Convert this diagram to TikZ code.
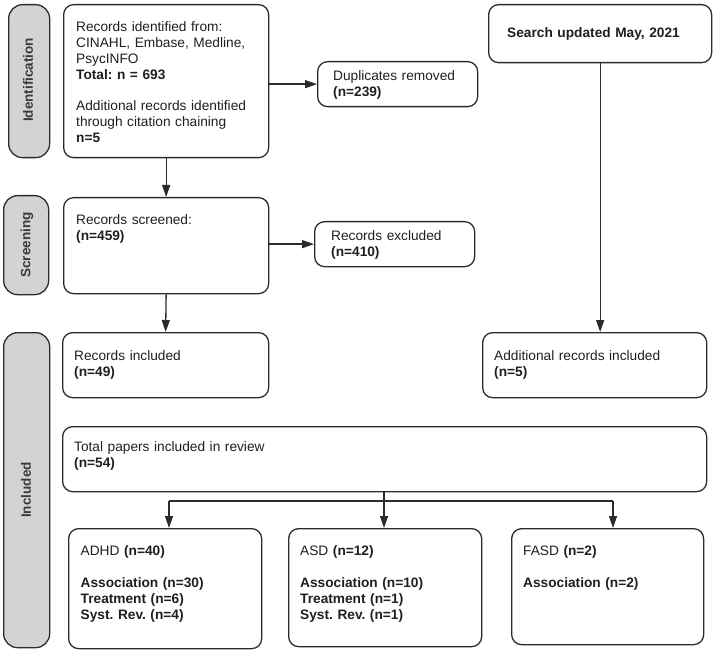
\documentclass[tikz,border=0pt]{standalone}
\usepackage{fontspec}
\setmainfont{Liberation Sans}
\usetikzlibrary{arrows.meta,calc}
\definecolor{lncol}{HTML}{2B2B2B}
\definecolor{tabfill}{HTML}{D3D3D3}
\definecolor{tabtext}{HTML}{3A3A3A}
\frenchspacing
\begin{document}
\frenchspacing
\begin{tikzpicture}[x=1pt,y=-1pt,
  box/.style={draw=lncol, line width=1.3pt, rounded corners=10pt, inner sep=0pt, anchor=north west},
  tabbox/.style={draw=lncol, fill=tabfill, line width=1.3pt, rounded corners=14pt, inner sep=0pt, anchor=north west},
  tablabel/.style={rotate=90, font=\bfseries\fontsize{13.5}{15}\selectfont, text=tabtext, inner sep=0pt},
  txt/.style={anchor=base west, align=left, text width=215pt, inner sep=0pt, text=black!88, font=\fontsize{13.7}{15.9}\selectfont},
  arr/.style={draw=lncol, line width=1.3pt, -{Triangle[length=12pt,width=8pt]}},
  plain/.style={draw=lncol, line width=1.3pt}
]
\useasboundingbox (0,0) rectangle (714,652);

% side tabs
\node[tabbox, minimum width=41pt, minimum height=153pt] (tabI) at (8,4) {};
\node[tabbox, minimum width=45pt, minimum height=99pt] (tabS) at (3,195) {};
\node[tabbox, minimum width=46pt, minimum height=315pt] (tabN) at (3,332) {};
\node[tablabel] (labI) at (28,80) {Identification};
\node[tablabel] (labS) at (27,245) {Screening};
\node[tablabel] (labN) at (26,490) {Included};

% boxes
\node[box, minimum width=205pt, minimum height=153pt] (b1) at (63,4) {};
\node[box, minimum width=160pt, minimum height=45pt] (dup) at (317,61) {};
\node[box, minimum width=223pt, minimum height=58pt] (search) at (488,4) {};
\node[box, minimum width=205pt, minimum height=96pt] (scr) at (63,197) {};
\node[box, minimum width=160pt, minimum height=45pt] (excl) at (314,221) {};
\node[box, minimum width=206pt, minimum height=65pt] (inc) at (62,332) {};
\node[box, minimum width=224pt, minimum height=65pt] (addl) at (482,332) {};
\node[box, minimum width=644pt, minimum height=65pt] (total) at (62,426) {};
\node[box, minimum width=193pt, minimum height=120pt] (adhd) at (68,528) {};
\node[box, minimum width=193pt, minimum height=118pt] (asd) at (288,528) {};
\node[box, minimum width=192pt, minimum height=116pt] (fasd) at (511,528) {};

% texts
\node[txt] (t1) at (76,31.5) {Records identified from:\\
CINAHL, Embase, Medline,\\
PsycINFO\\
\textbf{Total: n = 693}\\[15.9pt]
Additional records identified\\
through citation chaining\\
\textbf{n=5}};
\node[txt] (tdup) at (333,80.7) {Duplicates removed\\ \textbf{(n=239)}};
\node[txt] (tsearch) at (507,37.3) {\textbf{Search updated May, 2021}};
\node[txt] (tscr) at (76,225) {Records screened:\\ \textbf{(n=459)}};
\node[txt] (texcl) at (331,240.7) {Records excluded\\ \textbf{(n=410)}};
\node[txt] (tinc) at (74,360.7) {Records included\\ \textbf{(n=49)}};
\node[txt] (taddl) at (494,360.7) {Additional records included\\ \textbf{(n=5)}};
\node[txt] (ttotal) at (74,451.7) {Total papers included in review\\ \textbf{(n=54)}};
\node[txt] (tadhd) at (80.5,555) {ADHD \textbf{(n=40)}\\[16.5pt]
\textbf{Association (n=30)}\\
\textbf{Treatment (n=6)}\\
\textbf{Syst. Rev. (n=4)}};
\node[txt] (tasd) at (300,555.5) {ASD \textbf{(n=12)}\\[16.5pt]
\textbf{Association (n=10)}\\
\textbf{Treatment (n=1)}\\
\textbf{Syst. Rev. (n=1)}};
\node[txt] (tfasd) at (523,555) {FASD \textbf{(n=2)}\\[16.5pt]
\textbf{Association (n=2)}};

% connectors
\draw[arr] (b1.east |- dup.west) -- (dup.west);
\draw[arr] (b1.south) -- (scr.north);
\draw[arr] (scr.east |- excl.west) -- (excl.west);
\draw[arr] (scr.south) -- (inc.north);
\draw[arr] (search.south) -- (search.south |- addl.north);

\coordinate (br) at (384,501);
\coordinate (jl) at (169,501);
\coordinate (jr) at (613,501);
\draw[plain] (total.south -| br) -- (br);
\draw[plain] (jl) -- (jr);
\draw[arr] (jl) -- (jl |- adhd.north);
\draw[arr] (br) -- (br |- asd.north);
\draw[arr] (jr) -- (jr |- fasd.north);
\end{tikzpicture}
\end{document}
